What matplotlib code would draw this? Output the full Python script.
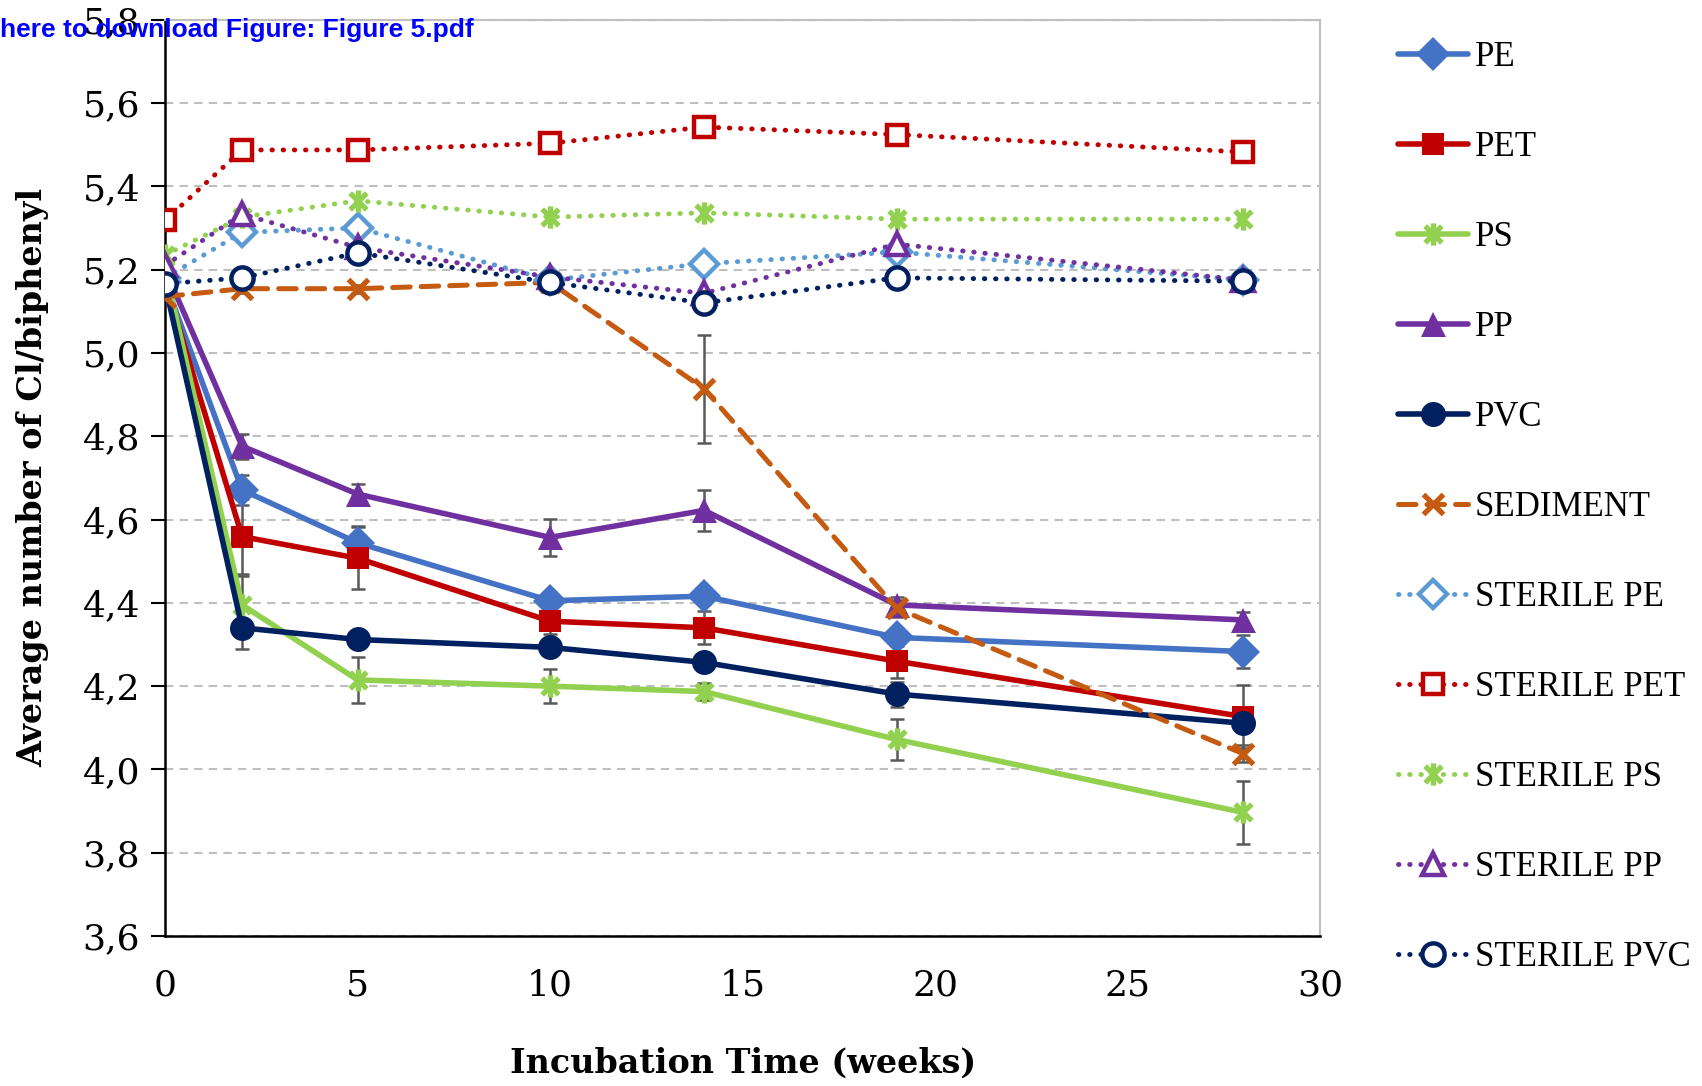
import matplotlib
matplotlib.use("Agg")
import matplotlib.pyplot as plt
from matplotlib.path import Path
from matplotlib.ticker import FuncFormatter, MultipleLocator

weeks = [0, 2, 5, 10, 14, 19, 28]

pe = [5.17, 4.671, 4.544, 4.405, 4.416, 4.317, 4.283]
pet = [5.17, 4.559, 4.507, 4.356, 4.340, 4.260, 4.127]
ps = [5.20, 4.395, 4.215, 4.200, 4.187, 4.072, 3.897]
pp = [5.20, 4.776, 4.661, 4.557, 4.622, 4.395, 4.359]
pvc = [5.164, 4.340, 4.312, 4.293, 4.257, 4.181, 4.111]
sediment = [5.135, 5.154, 5.154, 5.169, 4.914, 4.387, 4.038]
st_pe = [5.18, 5.289, 5.300, 5.175, 5.214, 5.242, 5.175]
st_pet = [5.318, 5.487, 5.487, 5.503, 5.542, 5.524, 5.482]
st_ps = [5.235, 5.326, 5.365, 5.326, 5.336, 5.321, 5.321]
st_pp = [5.21, 5.333, 5.253, 5.182, 5.143, 5.261, 5.175]
st_pvc = [5.166, 5.180, 5.240, 5.169, 5.120, 5.180, 5.172]

err_pe = [0, 0.035, 0.04, 0.02, 0.02, 0.02, 0.04]
err_pet = [0, 0.09, 0.075, 0.03, 0.04, 0.04, 0.075]
err_ps = [0, 0.07, 0.055, 0.04, 0.02, 0.05, 0.075]
err_pp = [0, 0.03, 0.025, 0.045, 0.05, 0.02, 0.02]
err_pvc = [0, 0.05, 0.02, 0.02, 0.02, 0.03, 0.02]
err_sed = [0, 0.01, 0.01, 0.01, 0.13, 0.02, 0.02]

labels = ["PE", "PET", "PS", "PP", "PVC", "SEDIMENT",
          "STERILE PE", "STERILE PET", "STERILE PS", "STERILE PP", "STERILE PVC"]

star = Path([(0, -1), (0, 1), (-0.75, -0.75), (0.75, 0.75), (-0.75, 0.75), (0.75, -0.75)],
            [Path.MOVETO, Path.LINETO, Path.MOVETO, Path.LINETO, Path.MOVETO, Path.LINETO])

serif = "DejaVu Serif"
plt.rcParams['font.family'] = serif

fig = plt.figure(figsize=(17.02, 10.86), dpi=100)
ax = fig.add_axes([0.097, 0.138, 0.6786, 0.844])

solid_lw = 4.0
dot = (0, (0.1, 2.2))

series = [
    (pe, err_pe, "#4472C4", "D", True, "-", 17),
    (pet, err_pet, "#C00000", "s", True, "-", 16),
    (ps, err_ps, "#92D050", star, True, "-", 16),
    (pp, err_pp, "#7030A0", "^", True, "-", 18),
    (pvc, err_pvc, "#002060", "o", True, "-", 18),
    (sediment, err_sed, "#C55A11", "x", True, (0, (3.5, 2.2)), 15),
    (st_pe, None, "#5B9BD5", "D", False, dot, 14),
    (st_pet, None, "#C00000", "s", False, dot, 15),
    (st_ps, None, "#92D050", star, False, dot, 16),
    (st_pp, None, "#7030A0", "^", False, dot, 16),
    (st_pvc, None, "#002060", "o", False, dot, 16),
]

handles = []
for (vals, err, col, mk, filled, ls, ms), lab in zip(series, labels):
    if err is not None:
        ax.errorbar(weeks, vals, yerr=err, fmt="none", ecolor="#595959",
                    elinewidth=1.8, capsize=5, capthick=1.8, zorder=2)
    lw = solid_lw if ls == "-" else (3.6 if lab == "SEDIMENT" else 3.5)
    mfc = col if filled else "white"
    mew = 3.8 if (mk == "x" or mk is star) else (0 if filled else 3.2)
    line, = ax.plot(weeks, vals, color=col, lw=lw, linestyle=ls,
                    marker=mk, markersize=ms, markerfacecolor=mfc,
                    markeredgecolor=col, markeredgewidth=mew,
                    dash_capstyle="round", solid_capstyle="round",
                    solid_joinstyle="round", label=lab, zorder=3)
    handles.append(line)

ax.set_xlim(0, 30)
ax.set_ylim(3.6, 5.8)
ax.xaxis.set_major_locator(MultipleLocator(5))
ax.yaxis.set_major_locator(MultipleLocator(0.2))
ax.yaxis.set_major_formatter(FuncFormatter(lambda v, p: f"{v:.1f}".replace(".", ",")))
ax.grid(axis="y", color="#BFBFBF", linestyle=(0, (4, 3)), linewidth=1.5)
ax.set_axisbelow(True)
for s in ["top", "right"]:
    ax.spines[s].set_color("#BFBFBF")
    ax.spines[s].set_linewidth(1.5)
for s in ["left", "bottom"]:
    ax.spines[s].set_color("black")
    ax.spines[s].set_linewidth(1.8)
ax.tick_params(axis="both", labelsize=26, direction="out", length=10, width=1.5, pad=8)
ax.tick_params(axis="x", length=0, pad=23)

ax.set_xlabel("Incubation Time (weeks)", fontsize=24, fontweight="bold", labelpad=32)
ax.set_ylabel("Average number of Cl/biphenyl", fontsize=24, fontweight="bold", labelpad=24)

leg = fig.legend(handles=handles, labels=labels, loc="upper left",
                 bbox_to_anchor=(0.8215, 0.962), frameon=False,
                 prop={"family": "Liberation Serif", "size": 25},
                 handlelength=2.0, handletextpad=0.2, labelspacing=1.64,
                 borderpad=0, borderaxespad=0, markerscale=1.0)

fig.text(0.0, 0.972, "here to download Figure: Figure 5.pdf", color="#0000FF",
         fontsize=19, fontweight="bold", family="Liberation Sans", va="center", ha="left")

fig.savefig("out.png", dpi=100)
